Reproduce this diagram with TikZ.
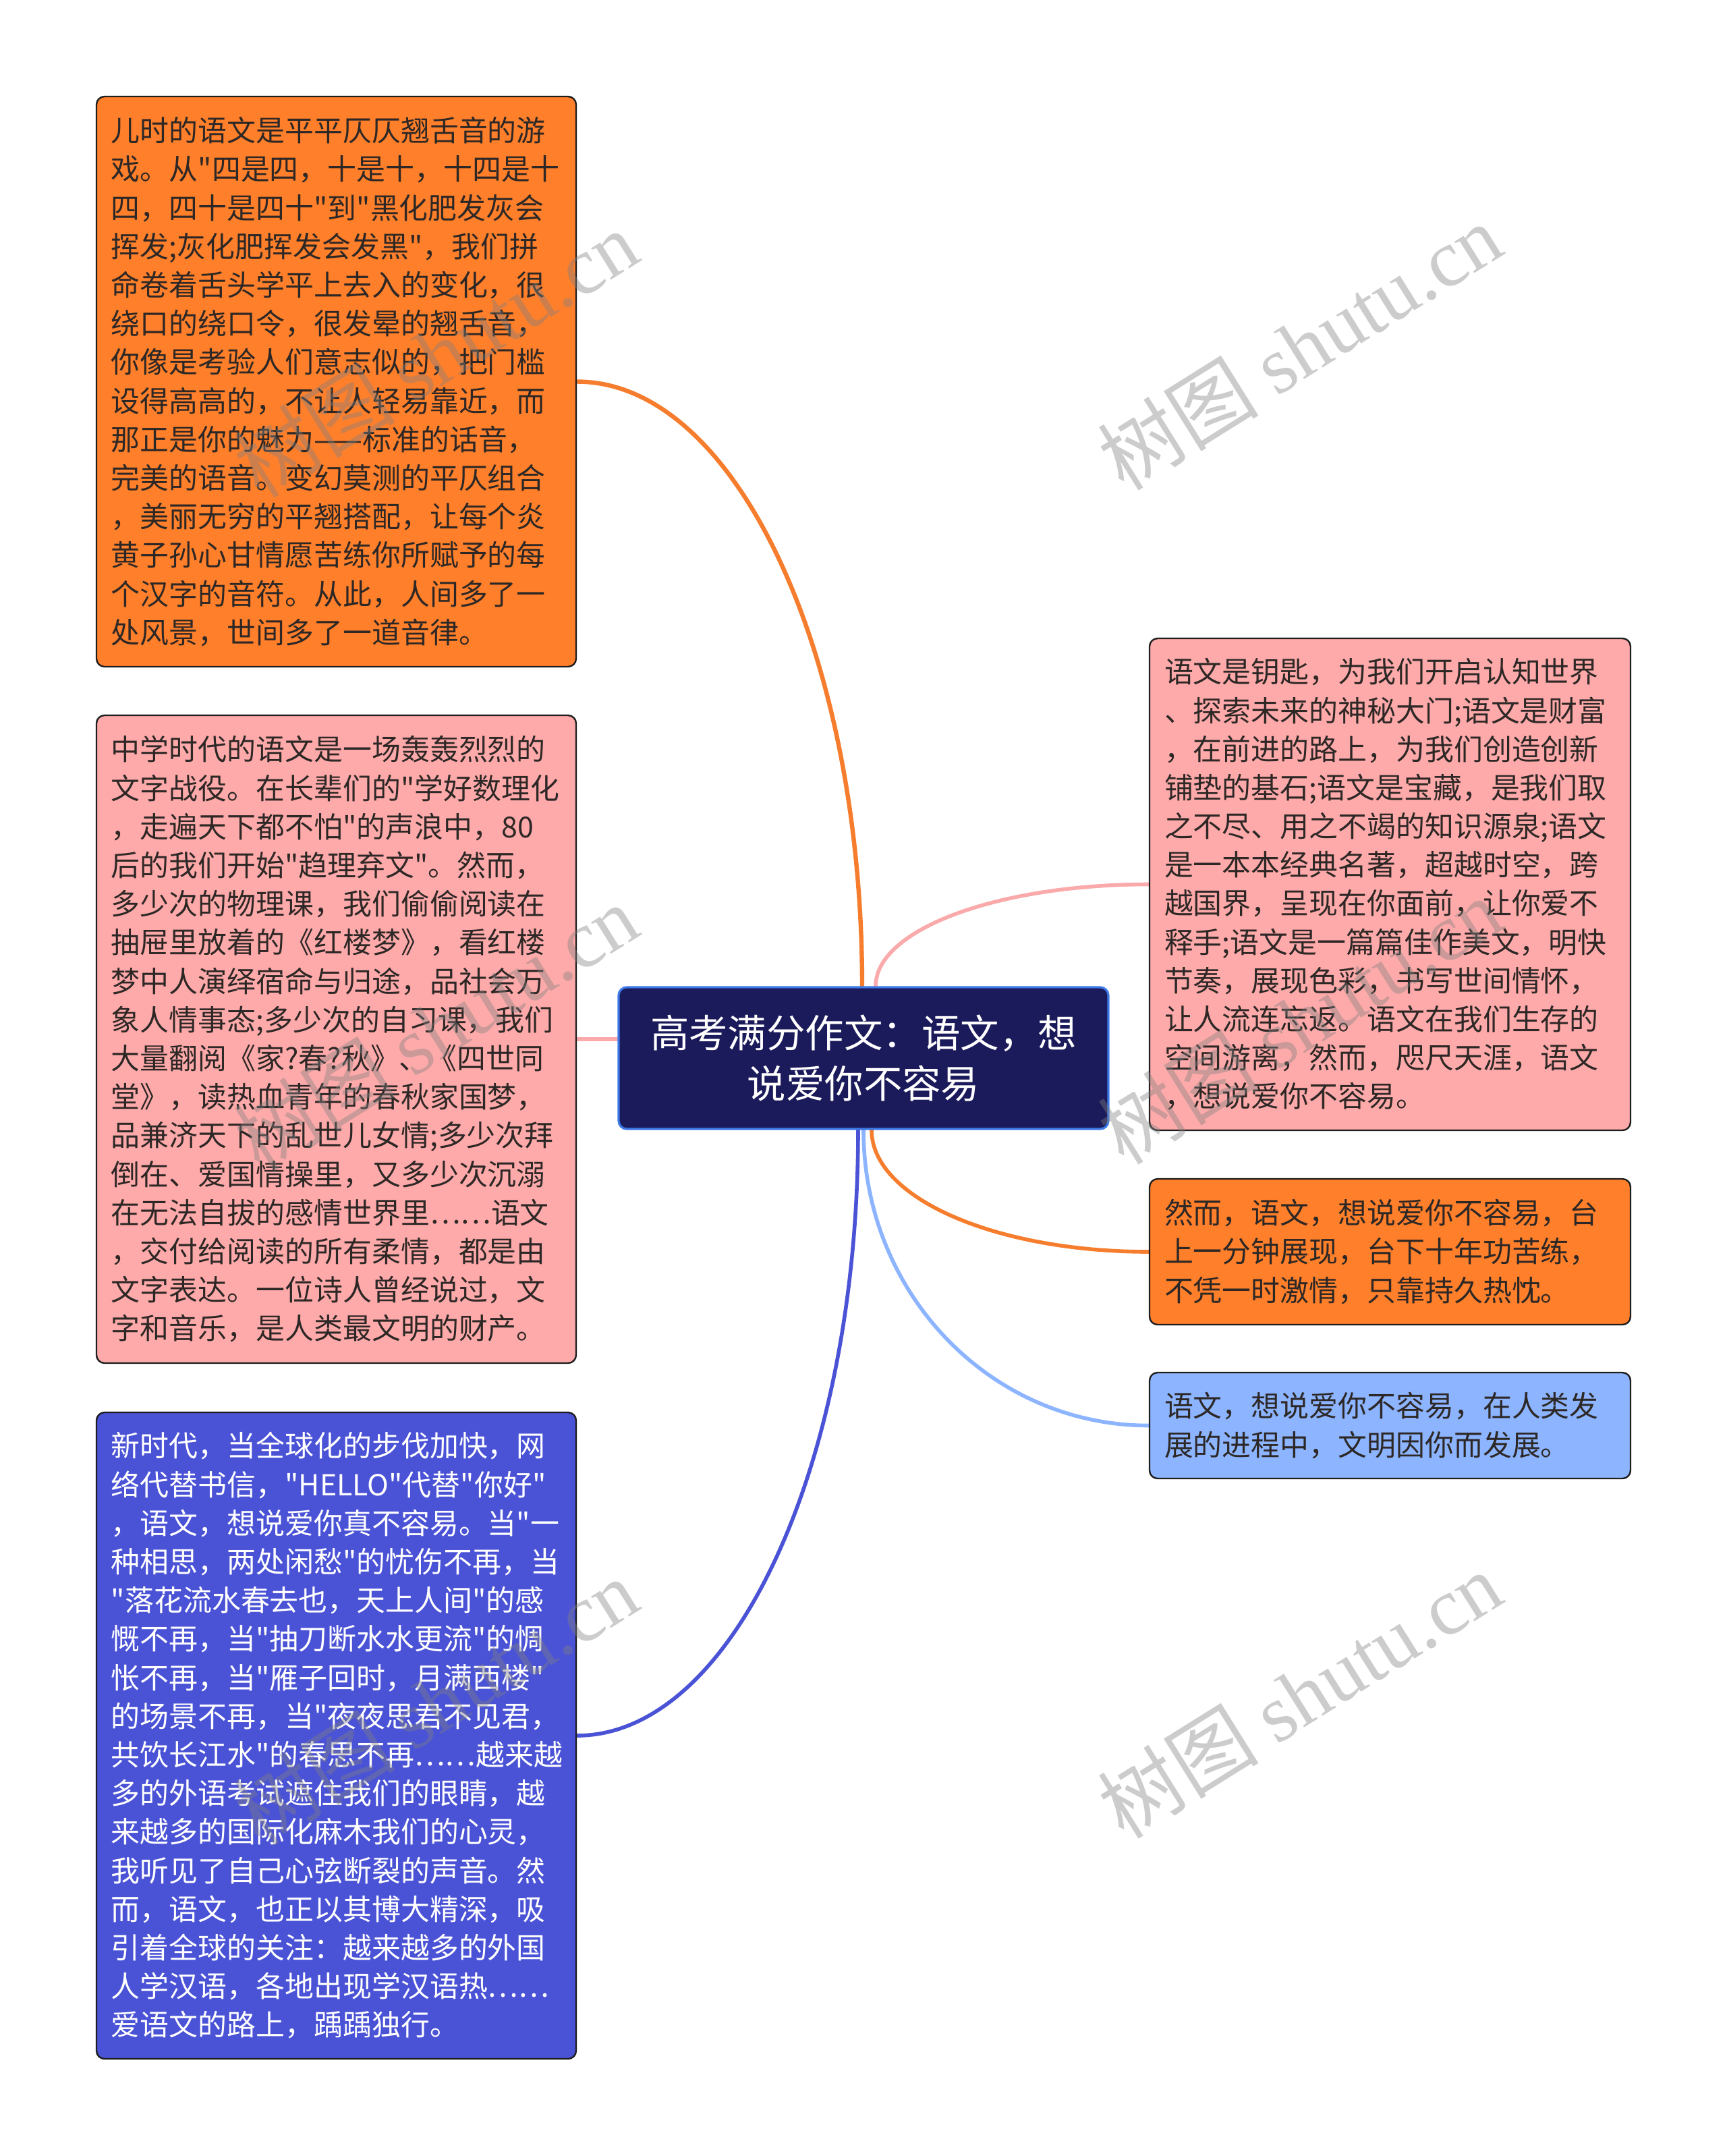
\documentclass[tikz,border=0pt]{standalone}
\usepackage{fontspec}
\setmainfont{Noto Sans CJK SC}
\newfontfamily\cjk{Noto Sans CJK SC}
\newfontfamily\wmlatin{Liberation Serif}
\usetikzlibrary{calc,backgrounds}
\definecolor{fillO}{RGB}{255,127,42}
\definecolor{fillP}{RGB}{255,170,170}
\definecolor{fillB}{RGB}{74,82,214}
\definecolor{fillL}{RGB}{140,180,255}
\definecolor{fillC}{RGB}{27,26,90}
\definecolor{lineC}{RGB}{60,120,230}
\definecolor{lineO}{RGB}{245,125,45}
\definecolor{lineP}{RGB}{250,170,170}
\definecolor{lineB}{RGB}{74,82,214}
\definecolor{lineL}{RGB}{140,180,255}
\definecolor{boxline}{RGB}{30,30,30}
\definecolor{txt}{RGB}{45,40,38}
\definecolor{wmgray}{RGB}{128,128,128}
\tikzset{
  leaf/.style={draw=boxline, line width=0.6pt, rounded corners=3pt,
    text width=166.75pt, inner xsep=5.5pt, inner ysep=0pt, align=left,
    font=\cjk\fontsize{10.73pt}{14.3pt}\selectfont, text=txt},
  rleaf/.style={leaf, text width=167.25pt},
  root/.style={draw=lineC, line width=0.8pt, fill=fillC, rounded corners=3pt,
    minimum width=181.5pt, minimum height=52.5pt, align=center, text=white,
    font=\cjk\fontsize{14.36pt}{18.85pt}\selectfont},
  conn/.style={line width=1.4pt, line cap=round},
  wm/.style={rotate=32, text=wmgray, text opacity=0.4, inner sep=0pt},
}
\begin{document}
\begin{tikzpicture}[x=1pt,y=-1pt]
\begin{pgfonlayer}{background}
\fill[white] (0,0) rectangle (640,798.75);
\end{pgfonlayer}
\useasboundingbox (0,0) rectangle (640,798.75);

\node[root] (c) at (320,392) {高考满分作文：语文，想\\说爱你不容易};

\node[leaf, fill=fillO, minimum height=211.25pt] (b1) at (124.625,141.375) {儿时的语文是平平仄仄翘舌音的游\\戏。从"四是四，十是十，十四是十\\四，四十是四十"到"黑化肥发灰会\\挥发;灰化肥挥发会发黑"，我们拼\\命卷着舌头学平上去入的变化，很\\绕口的绕口令，很发晕的翘舌音，\\你像是考验人们意志似的，把门槛\\设得高高的，不让人轻易靠近，而\\那正是你的魅力——标准的话音，\\完美的语音。变幻莫测的平仄组合\\，美丽无穷的平翘搭配，让每个炎\\黄子孙心甘情愿苦练你所赋予的每\\个汉字的音符。从此，人间多了一\\处风景，世间多了一道音律。};

\node[leaf, fill=fillP, minimum height=240pt] (b2) at (124.625,385) {中学时代的语文是一场轰轰烈烈的\\文字战役。在长辈们的"学好数理化\\，走遍天下都不怕"的声浪中，80\\后的我们开始"趋理弃文"。然而，\\多少次的物理课，我们偷偷阅读在\\抽屉里放着的《红楼梦》，看红楼\\梦中人演绎宿命与归途，品社会万\\象人情事态;多少次的自习课，我们\\大量翻阅《家?春?秋》、《四世同\\堂》，读热血青年的春秋家国梦，\\品兼济天下的乱世儿女情;多少次拜\\倒在、爱国情操里，又多少次沉溺\\在无法自拔的感情世界里……语文\\，交付给阅读的所有柔情，都是由\\文字表达。一位诗人曾经说过，文\\字和音乐，是人类最文明的财产。};

\node[leaf, fill=fillB, text=white, minimum height=239.5pt] (b3) at (124.625,643) {新时代，当全球化的步伐加快，网\\络代替书信，"HELLO"代替"你好"\\，语文，想说爱你真不容易。当"一\\种相思，两处闲愁"的忧伤不再，当\\"落花流水春去也，天上人间"的感\\慨不再，当"抽刀断水水更流"的惆\\怅不再，当"雁子回时，月满西楼"\\的场景不再，当"夜夜思君不见君，\\共饮长江水"的春思不再……越来越\\多的外语考试遮住我们的眼睛，越\\来越多的国际化麻木我们的心灵，\\我听见了自己心弦断裂的声音。然\\而，语文，也正以其博大精深，吸\\引着全球的关注：越来越多的外国\\人学汉语，各地出现学汉语热……\\爱语文的路上，踽踽独行。};

\node[rleaf, fill=fillP, minimum height=182.25pt] (r1) at (515.125,327.625) {语文是钥匙，为我们开启认知世界\\、探索未来的神秘大门;语文是财富\\，在前进的路上，为我们创造创新\\铺垫的基石;语文是宝藏，是我们取\\之不尽、用之不竭的知识源泉;语文\\是一本本经典名著，超越时空，跨\\越国界，呈现在你面前，让你爱不\\释手;语文是一篇篇佳作美文，明快\\节奏，展现色彩，书写世间情怀，\\让人流连忘返。语文在我们生存的\\空间游离，然而，咫尺天涯，语文\\，想说爱你不容易。};

\node[rleaf, fill=fillO, minimum height=54pt] (r2) at (515.125,463.75) {然而，语文，想说爱你不容易，台\\上一分钟展现，台下十年功苦练，\\不凭一时激情，只靠持久热忱。};

\node[rleaf, fill=fillL, minimum height=39.25pt] (r3) at (515.125,528.125) {语文，想说爱你不容易，在人类发\\展的进程中，文明因你而发展。};

\begin{pgfonlayer}{background}
\draw[conn, lineO, line width=1.6pt] ($(c.north)+(-0.5,0)$) .. controls +(0,-123.8) and +(58.5,0) .. (b1.east);
\draw[conn, lineP] (b2.east) -- (b2.east -| c.west);
\draw[conn, lineP] ($(c.north)+(4.5,0)$) .. controls +(0,-21) and +(-56,0) .. (r1.west);
\draw[conn, lineO] ($(c.south)+(3,0)$) .. controls +(0,25.1) and +(-56.9,0) .. (r2.west);
\draw[conn, lineL] (c.south) .. controls +(0,60.6) and +(-58.5,0) .. (r3.west);
\draw[conn, lineB] ($(c.south)+(-2,0)$) .. controls +(0,124) and +(57.7,0) .. (b3.east);
\end{pgfonlayer}

\foreach \n/\px/\py in {wm1/481.5/128.4, wm2/161.5/131, wm3/161.5/380.6, wm4/481.5/378.1, wm5/161.5/630.3, wm6/481.5/627.8}{
  \node[wm] (\n) at (\px,\py) {\cjk\fontsize{30pt}{30pt}\selectfont 树图 {\wmlatin shutu.cn}};
}
\end{tikzpicture}
\end{document}
